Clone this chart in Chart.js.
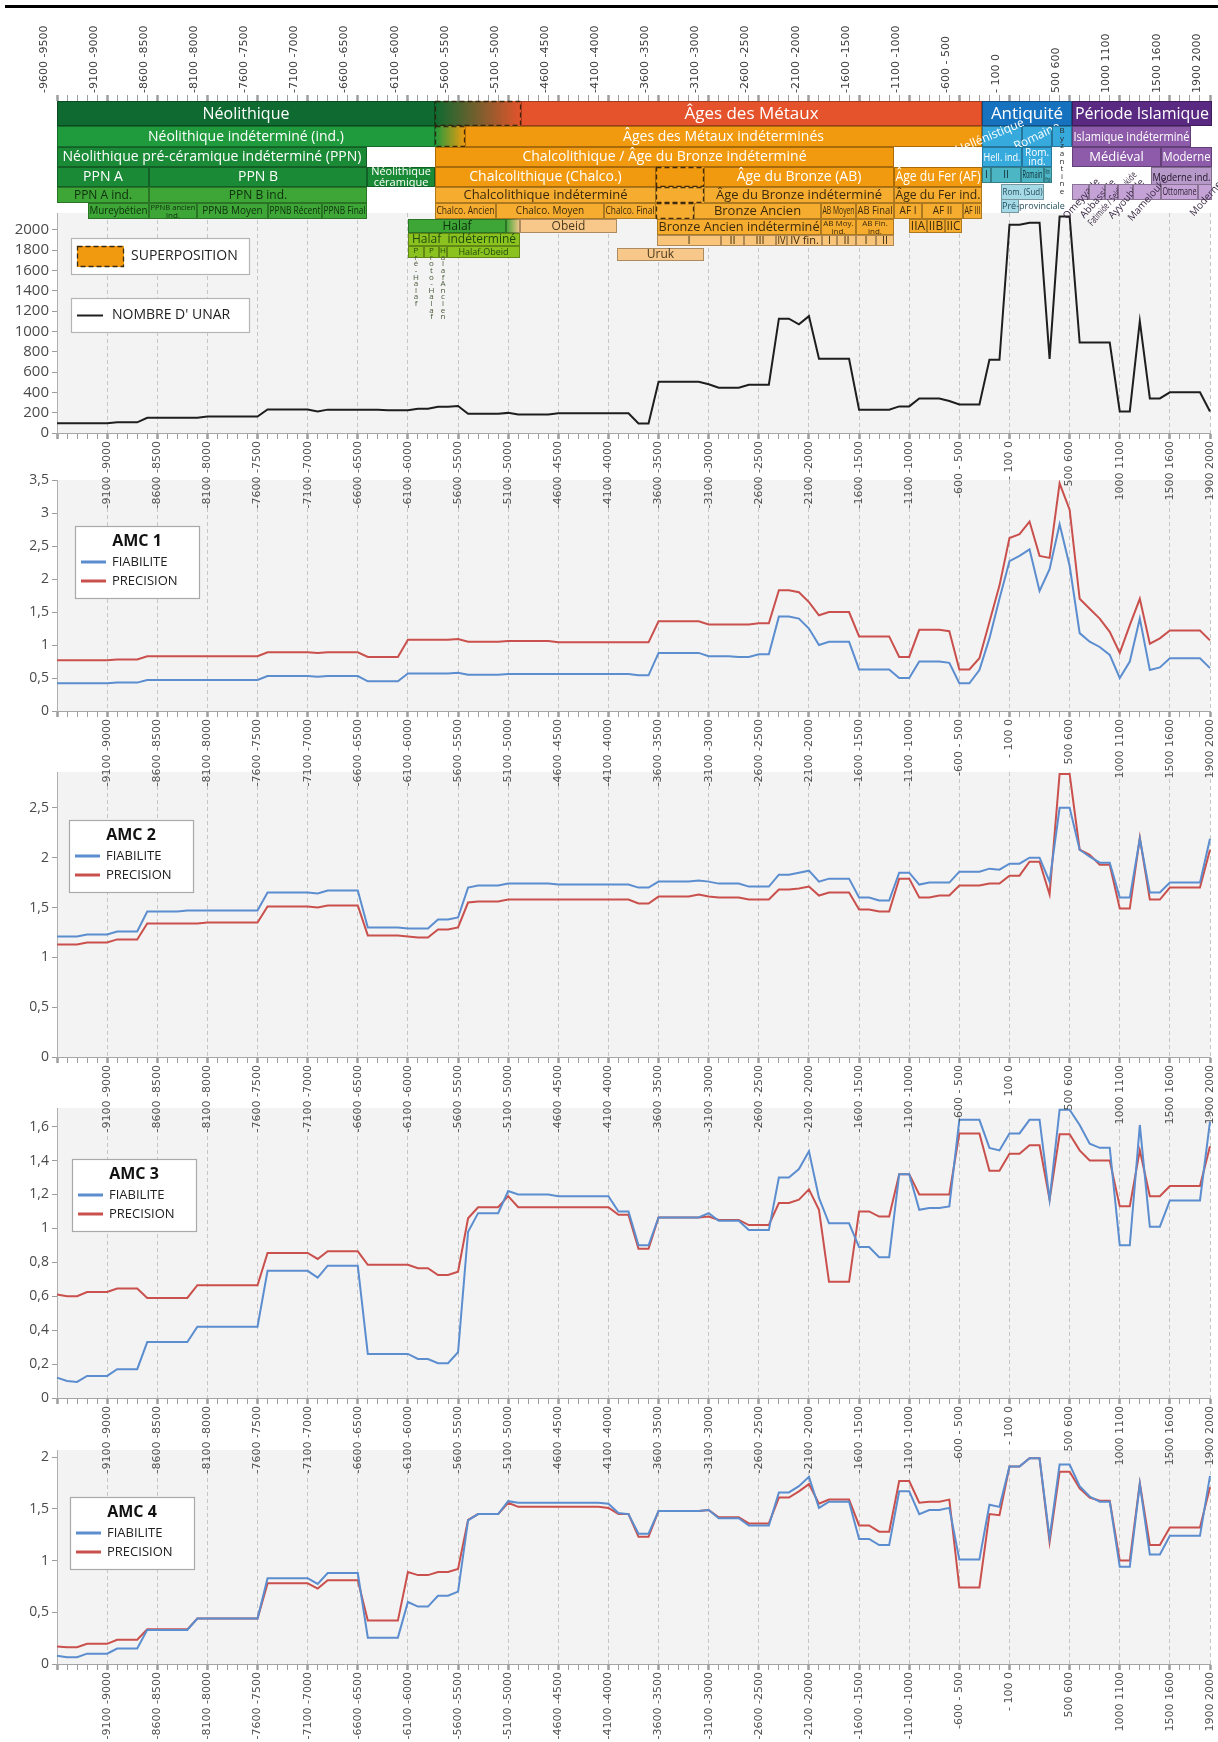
<!DOCTYPE html>
<html lang="fr">
<head>
<meta charset="utf-8">
<title>Nombre d'UNAR et AMC 1-4</title>
<script src="https://cdn.jsdelivr.net/npm/chart.js@4.4.1/dist/chart.umd.min.js"></script>
<style>
  html, body { margin:0; padding:0; background:#ffffff; }
  #page { position:relative; width:1218px; height:1742px; overflow:hidden; background:#ffffff; }
  #page canvas { position:absolute; left:0; }
  #rule { position:absolute; left:5px; right:0; top:5px; height:3px; background:#000; z-index:50; }
</style>
</head>
<body>
<div id="page">
  <div id="rule"></div>
  <canvas id="cHead" width="1218" height="330" style="top:0px;z-index:20"></canvas>
  <canvas id="cUnar" width="1218" height="310" style="top:203px;z-index:19"></canvas>
  <canvas id="cA1" width="1218" height="321" style="top:470px;z-index:18"></canvas>
  <canvas id="cA2" width="1218" height="375" style="top:762px;z-index:17"></canvas>
  <canvas id="cA3" width="1218" height="380" style="top:1098px;z-index:16"></canvas>
  <canvas id="cA4" width="1218" height="304" style="top:1440px;z-index:15"></canvas>
</div>
<script>
// ================= DATA =================
const periodLabels = [
"-9600 -9500","-9500 -9400","-9400 -9300","-9300 -9200","-9200 -9100","-9100 -9000","-9000 -8900","-8900 -8800","-8800 -8700","-8700 -8600",
"-8600 -8500","-8500 -8400","-8400 -8300","-8300 -8200","-8200 -8100","-8100 -8000","-8000 -7900","-7900 -7800","-7800 -7700","-7700 -7600",
"-7600 -7500","-7500 -7400","-7400 -7300","-7300 -7200","-7200 -7100","-7100 -7000","-7000 -6900","-6900 -6800","-6800 -6700","-6700 -6600",
"-6600 -6500","-6500 -6400","-6400 -6300","-6300 -6200","-6200 -6100","-6100 -6000","-6000 -5900","-5900 -5800","-5800 -5700","-5700 -5600",
"-5600 -5500","-5500 -5400","-5400 -5300","-5300 -5200","-5200 -5100","-5100 -5000","-5000 -4900","-4900 -4800","-4800 -4700","-4700 -4600",
"-4600 -4500","-4500 -4400","-4400 -4300","-4300 -4200","-4200 -4100","-4100 -4000","-4000 -3900","-3900 -3800","-3800 -3700","-3700 -3600",
"-3600 -3500","-3500 -3400","-3400 -3300","-3300 -3200","-3200 -3100","-3100 -3000","-3000 -2900","-2900 -2800","-2800 -2700","-2700 -2600",
"-2600 -2500","-2500 -2400","-2400 -2300","-2300 -2200","-2200 -2100","-2100 -2000","-2000 -1900","-1900 -1800","-1800 -1700","-1700 -1600",
"-1600 -1500","-1500 -1400","-1400 -1300","-1300 -1200","-1200 -1100","-1100 -1000","-1000 -900","-900 -800","-800 -700","-700 -600",
"-600 - 500","-500 -400","-400 -300","-300 -200","-200 -100","- 100 0","0 100","100 200","200 300","300 400",
"400 500","500 600","600 700","700 800","800 900","900 1000","1000 1100","1100 1200","1200 1300","1300 1400",
"1400 1500","1500 1600","1600 1700","1700 1800","1800 1900","1900 2000"];
const firstYear = -9600;   // start of the first 100-year interval
const yearStep = 100;
const labelledTicks = [0,5,10,15,20,25,30,35,40,45,50,55,60,65,70,75,80,85,90,95,101,106,111,115];

const unarCount = [
 95,95,95,95,95,95,105,105,105,150,
 150,150,150,150,150,162,162,162,162,162,
 162,232,232,232,232,232,212,230,230,230,
 230,230,230,225,225,225,238,238,258,258,
 265,190,190,190,190,198,183,183,183,183,
 195,195,195,195,195,195,195,195,93,93,
 505,505,505,505,505,480,445,445,445,475,
 475,475,1125,1125,1070,1150,730,730,730,730,
 230,230,230,230,262,262,340,340,340,315,
 280,280,280,720,720,2050,2050,2070,2070,730,
 2130,2130,890,890,890,890,212,212,1100,340,
 340,400,400,400,400,212];

const amc1Fiabilite = [
 0.42,0.42,0.42,0.42,0.42,0.42,0.43,0.43,0.43,0.47,
 0.47,0.47,0.47,0.47,0.47,0.47,0.47,0.47,0.47,0.47,
 0.47,0.53,0.53,0.53,0.53,0.53,0.52,0.53,0.53,0.53,
 0.53,0.45,0.45,0.45,0.45,0.57,0.57,0.57,0.57,0.57,
 0.58,0.55,0.55,0.55,0.55,0.56,0.56,0.56,0.56,0.56,
 0.56,0.56,0.56,0.56,0.56,0.56,0.56,0.56,0.54,0.54,
 0.88,0.88,0.88,0.88,0.88,0.83,0.83,0.83,0.82,0.82,
 0.86,0.86,1.43,1.43,1.40,1.25,1.00,1.05,1.05,1.05,
 0.63,0.63,0.63,0.63,0.50,0.50,0.75,0.75,0.75,0.73,
 0.42,0.42,0.62,1.10,1.70,2.27,2.35,2.45,1.82,2.15,
 2.83,2.20,1.18,1.05,0.97,0.85,0.50,0.75,1.40,0.62,
 0.66,0.80,0.80,0.80,0.80,0.65];
const amc1Precision = [
 0.77,0.77,0.77,0.77,0.77,0.77,0.78,0.78,0.78,0.83,
 0.83,0.83,0.83,0.83,0.83,0.83,0.83,0.83,0.83,0.83,
 0.83,0.89,0.89,0.89,0.89,0.89,0.88,0.89,0.89,0.89,
 0.89,0.82,0.82,0.82,0.82,1.08,1.08,1.08,1.08,1.08,
 1.09,1.05,1.05,1.05,1.05,1.06,1.06,1.06,1.06,1.06,
 1.04,1.04,1.04,1.04,1.04,1.04,1.04,1.04,1.04,1.04,
 1.36,1.36,1.36,1.36,1.36,1.31,1.31,1.31,1.31,1.31,
 1.33,1.33,1.83,1.83,1.80,1.65,1.45,1.50,1.50,1.50,
 1.13,1.13,1.13,1.13,0.82,0.82,1.23,1.23,1.23,1.21,
 0.63,0.63,0.80,1.35,1.90,2.62,2.68,2.87,2.35,2.32,
 3.45,3.05,1.70,1.55,1.40,1.20,0.88,1.30,1.70,1.02,
 1.10,1.22,1.22,1.22,1.22,1.07];

const amc2Fiabilite = [
 1.21,1.21,1.21,1.23,1.23,1.23,1.26,1.26,1.26,1.46,
 1.46,1.46,1.46,1.47,1.47,1.47,1.47,1.47,1.47,1.47,
 1.47,1.65,1.65,1.65,1.65,1.65,1.64,1.67,1.67,1.67,
 1.67,1.30,1.30,1.30,1.30,1.29,1.29,1.29,1.38,1.38,
 1.40,1.70,1.72,1.72,1.72,1.74,1.74,1.74,1.74,1.74,
 1.73,1.73,1.73,1.73,1.73,1.73,1.73,1.73,1.70,1.70,
 1.76,1.76,1.76,1.76,1.77,1.76,1.74,1.74,1.74,1.71,
 1.71,1.71,1.83,1.83,1.85,1.87,1.76,1.79,1.79,1.79,
 1.60,1.60,1.57,1.57,1.85,1.85,1.73,1.75,1.75,1.75,
 1.86,1.86,1.86,1.89,1.88,1.94,1.94,2.00,2.00,1.76,
 2.50,2.50,2.08,2.01,1.95,1.95,1.60,1.60,2.19,1.65,
 1.65,1.75,1.75,1.75,1.75,2.19];
const amc2Precision = [
 1.13,1.13,1.13,1.15,1.15,1.15,1.18,1.18,1.18,1.34,
 1.34,1.34,1.34,1.34,1.34,1.35,1.35,1.35,1.35,1.35,
 1.35,1.51,1.51,1.51,1.51,1.51,1.50,1.52,1.52,1.52,
 1.52,1.22,1.22,1.22,1.22,1.21,1.20,1.20,1.28,1.28,
 1.30,1.55,1.56,1.56,1.56,1.58,1.58,1.58,1.58,1.58,
 1.58,1.58,1.58,1.58,1.58,1.58,1.58,1.58,1.54,1.54,
 1.61,1.61,1.61,1.61,1.63,1.61,1.60,1.60,1.60,1.58,
 1.58,1.58,1.68,1.68,1.69,1.71,1.62,1.65,1.65,1.65,
 1.48,1.48,1.46,1.46,1.79,1.79,1.60,1.60,1.62,1.62,
 1.72,1.72,1.72,1.74,1.74,1.82,1.82,1.96,1.96,1.63,
 2.84,2.84,2.08,2.03,1.93,1.93,1.49,1.49,2.20,1.58,
 1.58,1.70,1.70,1.70,1.70,2.08];

const amc3Fiabilite = [
 0.12,0.10,0.095,0.13,0.13,0.13,0.17,0.17,0.17,0.33,
 0.33,0.33,0.33,0.33,0.42,0.42,0.42,0.42,0.42,0.42,
 0.42,0.75,0.75,0.75,0.75,0.75,0.71,0.78,0.78,0.78,
 0.78,0.26,0.26,0.26,0.26,0.26,0.23,0.23,0.205,0.205,
 0.27,0.98,1.09,1.09,1.09,1.22,1.20,1.20,1.20,1.20,
 1.19,1.19,1.19,1.19,1.19,1.19,1.10,1.10,0.90,0.90,
 1.065,1.065,1.065,1.065,1.065,1.09,1.045,1.045,1.045,0.99,
 0.99,0.99,1.30,1.30,1.35,1.455,1.18,1.03,1.03,1.03,
 0.89,0.89,0.83,0.83,1.32,1.32,1.11,1.12,1.12,1.13,
 1.64,1.64,1.64,1.475,1.46,1.56,1.56,1.64,1.64,1.17,
 1.70,1.70,1.61,1.50,1.475,1.475,0.90,0.90,1.61,1.01,
 1.01,1.165,1.165,1.165,1.165,1.63];
const amc3Precision = [
 0.61,0.60,0.60,0.625,0.625,0.625,0.645,0.645,0.645,0.59,
 0.59,0.59,0.59,0.59,0.665,0.665,0.665,0.665,0.665,0.665,
 0.665,0.855,0.855,0.855,0.855,0.855,0.82,0.865,0.865,0.865,
 0.865,0.785,0.785,0.785,0.785,0.785,0.765,0.765,0.725,0.725,
 0.745,1.06,1.125,1.125,1.125,1.19,1.125,1.125,1.125,1.125,
 1.125,1.125,1.125,1.125,1.125,1.125,1.08,1.08,0.88,0.88,
 1.065,1.065,1.065,1.065,1.065,1.07,1.05,1.05,1.05,1.02,
 1.02,1.02,1.15,1.15,1.17,1.23,1.11,0.685,0.685,0.685,
 1.10,1.10,1.07,1.07,1.32,1.32,1.20,1.20,1.20,1.20,
 1.56,1.56,1.56,1.34,1.34,1.44,1.44,1.49,1.49,1.17,
 1.555,1.555,1.46,1.40,1.40,1.40,1.13,1.13,1.46,1.19,
 1.19,1.25,1.25,1.25,1.25,1.485];

const amc4Fiabilite = [
 0.08,0.065,0.065,0.10,0.10,0.10,0.15,0.15,0.15,0.33,
 0.33,0.33,0.33,0.33,0.44,0.44,0.44,0.44,0.44,0.44,
 0.44,0.83,0.83,0.83,0.83,0.83,0.775,0.88,0.88,0.88,
 0.88,0.255,0.255,0.255,0.255,0.60,0.555,0.555,0.66,0.66,
 0.70,1.39,1.45,1.45,1.45,1.575,1.56,1.56,1.56,1.56,
 1.56,1.56,1.56,1.56,1.56,1.55,1.46,1.45,1.26,1.26,
 1.48,1.48,1.48,1.48,1.48,1.49,1.41,1.41,1.41,1.34,
 1.34,1.34,1.66,1.66,1.72,1.81,1.51,1.57,1.57,1.57,
 1.21,1.21,1.15,1.15,1.67,1.67,1.45,1.49,1.49,1.51,
 1.01,1.01,1.01,1.54,1.52,1.91,1.91,1.99,1.99,1.22,
 1.93,1.93,1.72,1.62,1.57,1.57,0.94,0.94,1.74,1.06,
 1.06,1.24,1.24,1.24,1.24,1.82];
const amc4Precision = [
 0.17,0.163,0.163,0.195,0.195,0.195,0.235,0.235,0.235,0.335,
 0.335,0.335,0.335,0.335,0.44,0.44,0.44,0.44,0.44,0.44,
 0.44,0.78,0.78,0.78,0.78,0.78,0.73,0.81,0.81,0.81,
 0.81,0.42,0.42,0.42,0.42,0.89,0.86,0.86,0.89,0.89,
 0.92,1.395,1.45,1.45,1.45,1.56,1.52,1.52,1.52,1.52,
 1.52,1.52,1.52,1.52,1.52,1.51,1.45,1.45,1.23,1.23,
 1.48,1.48,1.48,1.48,1.48,1.49,1.42,1.42,1.42,1.36,
 1.36,1.36,1.61,1.61,1.67,1.74,1.55,1.59,1.59,1.59,
 1.34,1.34,1.28,1.28,1.77,1.77,1.56,1.57,1.57,1.59,
 0.74,0.74,0.74,1.45,1.44,1.91,1.91,1.99,1.99,1.18,
 1.86,1.86,1.70,1.61,1.58,1.58,1.00,1.00,1.75,1.15,
 1.15,1.32,1.32,1.32,1.32,1.71];

// Chronological periods (names, start year, end year)
const periodNames = [
 "Néolithique","","Âges des Métaux","Antiquité","Période Islamique",
 "Néolithique indéterminé (ind.)","","Âges des Métaux indéterminés","Hellénistique","Romaine","Byzantine","Islamique indéterminé",
 "Néolithique pré-céramique indéterminé (PPN)","Chalcolithique / Âge du Bronze indéterminé","Hell. ind.","Rom.\nind.","Médiéval","Moderne",
 "PPN A","PPN B","Néolithique\ncéramique","Chalcolithique (Chalco.)","","Âge du Bronze (AB)","Âge du Fer (AF)","I","II","Romain","Rom.\nfinal","Moderne ind.",
 "PPN A ind.","PPN B ind.","Chalcolithique indéterminé","","Âge du Bronze indéterminé","Âge du Fer ind.","Rom. (Sud)",
 "Omeyyade","Abbasside","Fatimide / Seldjoukide","Ayyoubide","Mamelouke","Ottomane","Moderne",
 "Mureybétien","PPNB ancien\nind.","PPNB Moyen","PPNB Récent","PPNB Final","Chalco. Ancien","Chalco. Moyen","Chalco. Final","",
 "Bronze Ancien","AB Moyen","AB Final","AF I","AF II","AF III","Pré-provinciale",
 "Halaf","","Obeid","Bronze Ancien indéterminé","AB Moy.\nind.","AB Fin.\nind.","IIA","IIB","IIC",
 "Halaf  indéterminé","I","II","III","IV","IV fin.","I","II","I","II",
 "Pré-Halaf","Proto-Halaf","Halaf Ancien","Halaf-Obeid","Uruk"];
const periodFrom = [
 -9600,-5825,-4970,-370,520,
 -9600,-5825,-5535,-370,20,320,520,
 -9600,-5825,-370,20,520,1415,
 -9600,-8680,-6510,-5825,-3625,-3145,-1255,-370,-280,10,240,1315,
 -9600,-8680,-5825,-3625,-3145,-1255,-180,
 520,690,850,980,1130,1410,1785,
 -9290,-8680,-8200,-7500,-6960,-5825,-5220,-4140,-3625,
 -3245,-1980,-1630,-1255,-975,-565,-180,
 -6100,-5120,-4980,-3615,-1980,-1630,-1105,-925,-745,
 -6100,-3615,-2975,-2745,-2430,-2320,-1970,-1820,-1630,-1430,
 -6100,-5935,-5785,-5715,-4010];
const periodTo = [
 -5825,-4970,-370,520,1915,
 -5825,-5535,-370,20,320,520,1715,
 -6510,-1255,20,320,1415,1915,
 -8680,-6510,-5825,-3625,-3145,-1255,-370,-280,10,240,320,1915,
 -8680,-6510,-3625,-3145,-1255,-370,240,
 690,850,980,1130,1410,1785,1915,
 -8680,-8200,-7500,-6960,-6510,-5220,-4140,-3625,-3245,
 -1980,-1630,-1255,-975,-565,-370,-10,
 -5120,-4980,-4010,-1980,-1630,-1255,-925,-745,-575,
 -4980,-2975,-2745,-2430,-2320,-1970,-1820,-1630,-1430,-1255,
 -5935,-5785,-5715,-4980,-3145];

// ================= STYLE =================
const BLUE = '#5b8dcf', RED = '#c9504c', BLACK = '#1e1e1e';
const PLOT_BG = '#f3f3f3';
const KINDS = {
  neo:{fill:'#0e6a30', color:'#ffffff', size:16},
  metal:{fill:'#e4532b', color:'#ffffff', size:17},
  anti:{fill:'#1672bf', color:'#ffffff', size:17},
  isl:{fill:'#5a2a82', color:'#ffffff', size:16},
  g2:{fill:'#1f9a3c', color:'#ffffff', size:14},
  g3:{fill:'#1a8a37', color:'#ffffff', size:14},
  o2:{fill:'#f29a0f', color:'#ffffff', size:14},
  b2:{fill:'#36a9dd', color:'#ffffff', size:11},
  p2:{fill:'#8d5ba9', color:'#ffffff', size:13},
  g5:{fill:'#3da636', color:'#0f2f0e', size:12},
  o5:{fill:'#f6ad2f', color:'#3b2a0c', size:13},
  lo:{fill:'#f8c88b', color:'#4b3a1e', size:12},
  lo2:{fill:'#f9c57a', color:'#3b2a0c', size:11},
  yg:{fill:'#8cc21f', color:'#1e4c0d', size:12},
  teal:{fill:'#4db6c5', color:'#0e2a33', size:10},
  lteal:{fill:'#a6d9e6', color:'#1f4a5a', size:9},
  lp:{fill:'#c4a2d5', color:'#2e2233', size:9},
  mp:{fill:'#b698c9', color:'#1e1526', size:11}
};
// row bands (offsets from the top of the header area)
const ROWS = [[0,25],[25,46],[46,66],[66,86],[86,102],[102,118],[118,132],[132,145],[145,157]];
const periodLayout = [
 {row:0,kind:'neo'},{row:0,kind:'neo',grad:['#0e6a30','#e4532b'],dash:true},{row:0,kind:'metal'},{row:0,kind:'anti'},{row:0,kind:'isl'},
 {row:1,kind:'g2'},{row:1,kind:'g2',grad:['#1f9a3c','#f29a0f'],dash:true},{row:1,kind:'o2'},
 {row:1,kind:'b2',rot:-0.4,dx:-12,size:12},{row:1,kind:'b2',rot:-0.45,dx:0,size:12},{row:1,kind:'b2',vert:true,vstep:7.6,vcolor:'#2c2c2c'},{row:1,kind:'p2'},
 {row:2,kind:'g3'},{row:2,kind:'o2'},{row:2,kind:'b2'},{row:2,kind:'b2',size:10},{row:2,kind:'p2'},{row:2,kind:'p2'},
 {row:3,kind:'g3'},{row:3,kind:'g3'},{row:3,kind:'g3',size:11},{row:3,kind:'o2'},{row:3,kind:'o2',dash:true},{row:3,kind:'o2'},{row:3,kind:'o2'},
 {row:3,kind:'teal',dy1:-4},{row:3,kind:'teal',dy1:-4},{row:3,kind:'teal',dy1:-4},{row:3,kind:'teal',dy1:-4,size:8},{row:3,kind:'mp'},
 {row:4,kind:'g5'},{row:4,kind:'g5'},{row:4,kind:'o5'},{row:4,kind:'o5',dash:true},{row:4,kind:'o5'},{row:4,kind:'o5'},{row:4,kind:'lteal',dy0:-3,dy1:-3},
 {row:4,kind:'lp',dy0:-3,dy1:-3,diag:true},{row:4,kind:'lp',dy0:-3,dy1:-3,diag:true},{row:4,kind:'lp',dy0:-3,dy1:-3,diag:true},
 {row:4,kind:'lp',dy0:-3,dy1:-3,diag:true},{row:4,kind:'lp',dy0:-3,dy1:-3,diag:true},{row:4,kind:'lp',dy0:-3,dy1:-3,size:10},{row:4,kind:'lp',dy0:-3,dy1:-3,diag:true},
 {row:5,kind:'g5',size:10},{row:5,kind:'g5',size:8},{row:5,kind:'g5',size:10},{row:5,kind:'g5',size:10},{row:5,kind:'g5',size:10},
 {row:5,kind:'o5',size:10},{row:5,kind:'o5',size:10},{row:5,kind:'o5',size:10},{row:5,kind:'o5',dash:true},
 {row:5,kind:'o5',size:13},{row:5,kind:'o5',size:10},{row:5,kind:'o5',size:10},{row:5,kind:'o5',size:10},{row:5,kind:'o5',size:10},{row:5,kind:'o5',size:10},
 {row:5,kind:'lteal',dy0:-4,dy1:-6,left:true},
 {row:6,kind:'g5'},{row:6,kind:'g5',grad:['#3da636','#f8c88b']},{row:6,kind:'lo'},{row:6,kind:'o5',dy1:2},
 {row:6,kind:'o5',size:8,dy1:2},{row:6,kind:'o5',size:8,dy1:2},{row:6,kind:'o5',size:12},{row:6,kind:'o5',size:12},{row:6,kind:'o5',size:12},
 {row:7,kind:'yg'},{row:7,kind:'lo2',dy0:2},{row:7,kind:'lo2',dy0:2},{row:7,kind:'lo2',dy0:2},{row:7,kind:'lo2',dy0:2},{row:7,kind:'lo2',dy0:2},
 {row:7,kind:'lo2',dy0:2},{row:7,kind:'lo2',dy0:2},{row:7,kind:'lo2',dy0:2},{row:7,kind:'lo2',dy0:2},
 {row:8,kind:'yg',vert:true,vstep:6.6,vcolor:'#4a5a3a'},{row:8,kind:'yg',vert:true,vstep:6.6,vcolor:'#4a5a3a'},{row:8,kind:'yg',vert:true,vstep:6.6,vcolor:'#4a5a3a'},
 {row:8,kind:'yg',size:9},{row:8,kind:'lo',dy0:2,dy1:3}
];

const FONT = "'Open Sans', 'DejaVu Sans', sans-serif";
const isLabelled = i => labelledTicks.indexOf(i) >= 0;
const toIndex = yr => (yr - firstYear) / yearStep;

function drawFitText(ctx, txt, cx, cy, maxW, size, color, weight) {
  ctx.font = (weight ? weight + ' ' : '') + size + 'px ' + FONT;
  const lines = txt.split('\n');
  const lh = size * 0.95;
  lines.forEach((ln, k) => {
    const w = ctx.measureText(ln).width;
    const sx = w > maxW ? maxW / w : 1;
    ctx.save();
    ctx.translate(cx, cy + (k - (lines.length - 1) / 2) * lh);
    ctx.scale(sx, 1);
    ctx.fillStyle = color; ctx.textAlign = 'center'; ctx.textBaseline = 'middle';
    ctx.fillText(ln, 0, 0.5);
    ctx.restore();
  });
}

// ---- header periods drawn on the top category scale ----
const headerPlugin = {
  id: 'periodHeader',
  afterDraw(chart) {
    const {ctx, chartArea, scales} = chart;
    const xs = scales.x;
    const X = yr => xs.getPixelForValue(toIndex(yr));
    const T = chartArea.top;
    ctx.save();
    periodNames.forEach((name, k) => {
      const st = periodLayout[k];
      const kind = KINDS[st.kind];
      const x0 = Math.round(X(periodFrom[k])), x1 = Math.round(X(periodTo[k]));
      const y0 = T + ROWS[st.row][0] + (st.dy0 || 0), y1 = T + ROWS[st.row][1] + (st.dy1 || 0);
      const w = x1 - x0, h = y1 - y0;
      if (st.grad) {
        const g = ctx.createLinearGradient(x0, 0, x1, 0);
        g.addColorStop(0, st.grad[0]); g.addColorStop(1, st.grad[1]);
        ctx.fillStyle = g;
      } else ctx.fillStyle = kind.fill;
      ctx.fillRect(x0, y0, w, h);
      ctx.save();
      if (st.dash) { ctx.setLineDash([5, 3]); ctx.strokeStyle = 'rgba(45,30,10,0.9)'; ctx.lineWidth = 1.3; }
      else { ctx.strokeStyle = 'rgba(0,0,0,0.3)'; ctx.lineWidth = 1; }
      ctx.strokeRect(x0 + 0.5, y0 + 0.5, w - 1, h - 1);
      ctx.restore();
      if (!name) return;
      const size = st.size || kind.size;
      if (st.vert) {
        const letters = name.replace(/ /g, '').split('');
        ctx.font = '8px ' + FONT; ctx.textAlign = 'center'; ctx.textBaseline = 'middle';
        letters.forEach((ch, j) => {
          ctx.fillStyle = (j === 0 && st.row === 8) ? kind.color : st.vcolor;
          ctx.fillText(ch, (x0 + x1) / 2, y0 + 5 + j * st.vstep);
        });
      } else if (st.rot) {
        ctx.save();
        ctx.translate((x0 + x1) / 2 + (st.dx || 0), (y0 + y1) / 2);
        ctx.rotate(st.rot);
        ctx.font = size + 'px ' + FONT; ctx.fillStyle = kind.color;
        ctx.textAlign = 'center'; ctx.textBaseline = 'middle';
        ctx.fillText(name, 0, 0);
        ctx.restore();
      } else if (st.diag) {
        ctx.save();
        ctx.translate((x0 + x1) / 2 + 1, (y0 + y1) / 2 + 7);
        ctx.rotate(-0.85);
        ctx.font = '10px ' + FONT;
        const tw = ctx.measureText(name).width;
        const sx = tw > 68 ? 68 / tw : 1;
        ctx.scale(sx, 1);
        ctx.fillStyle = '#3a2a44'; ctx.textAlign = 'center'; ctx.textBaseline = 'middle';
        ctx.fillText(name, 0, 0);
        ctx.restore();
      } else if (st.left) {
        ctx.font = size + 'px ' + FONT; ctx.fillStyle = kind.color;
        ctx.textAlign = 'left'; ctx.textBaseline = 'middle';
        ctx.fillText(name, x0 + 1, (y0 + y1) / 2 + 0.5);
      } else {
        drawFitText(ctx, name, (x0 + x1) / 2, (y0 + y1) / 2, Math.max(4, w - 3), size, kind.color);
      }
    });
    ctx.restore();
  }
};

const plotBackground = {
  id: 'plotBackground',
  beforeDraw(chart) {
    const {ctx, chartArea: a} = chart;
    ctx.save(); ctx.fillStyle = PLOT_BG; ctx.fillRect(a.left, a.top, a.right - a.left, a.bottom - a.top); ctx.restore();
  }
};

function unarLegend() {
  return {
    id: 'unarLegend',
    afterDraw(chart) {
      const {ctx, chartArea} = chart;
      const T = chartArea.top;
      ctx.save();
      ctx.fillStyle = '#fff'; ctx.fillRect(71, T + 25, 178, 36);
      ctx.strokeStyle = '#b5b5b5'; ctx.lineWidth = 1.2; ctx.strokeRect(71.5, T + 25.5, 178, 36);
      ctx.fillStyle = '#f29a0f'; ctx.fillRect(77, T + 33, 47, 21);
      ctx.setLineDash([5, 3]); ctx.strokeStyle = '#3a2a10'; ctx.lineWidth = 1.3; ctx.strokeRect(77.5, T + 33.5, 46, 20);
      ctx.setLineDash([]);
      ctx.fillStyle = '#222'; ctx.font = '14px ' + FONT; ctx.textAlign = 'left'; ctx.textBaseline = 'middle';
      ctx.fillText('SUPERPOSITION', 131, T + 43);
      ctx.fillStyle = '#fff'; ctx.fillRect(71, T + 85, 178, 34);
      ctx.strokeStyle = '#b5b5b5'; ctx.lineWidth = 1.2; ctx.strokeRect(71.5, T + 85.5, 178, 34);
      const ds = chart.data.datasets[0];
      ctx.strokeStyle = ds.borderColor; ctx.lineWidth = 2; ctx.beginPath(); ctx.moveTo(77, T + 102.5); ctx.lineTo(103, T + 102.5); ctx.stroke();
      ctx.fillStyle = '#222'; ctx.fillText(ds.label, 112, T + 102);
      ctx.restore();
    }
  };
}

function amcLegend(title, boxX, boxDy) {
  return {
    id: 'amcLegend',
    afterDraw(chart) {
      const {ctx, chartArea} = chart;
      const y = chartArea.top + boxDy, w = 124, h = 72;
      ctx.save();
      ctx.fillStyle = '#fff'; ctx.fillRect(boxX, y, w, h);
      ctx.strokeStyle = '#a9a9a9'; ctx.lineWidth = 1.2; ctx.strokeRect(boxX + 0.5, y + 0.5, w, h);
      ctx.fillStyle = '#111'; ctx.font = 'bold 16px ' + FONT; ctx.textAlign = 'center'; ctx.textBaseline = 'middle';
      ctx.fillText(title, boxX + w / 2, y + 15);
      chart.data.datasets.forEach((ds, k) => {
        const ly = y + 36 + k * 19;
        ctx.strokeStyle = ds.borderColor; ctx.lineWidth = 3;
        ctx.beginPath(); ctx.moveTo(boxX + 6, ly); ctx.lineTo(boxX + 31, ly); ctx.stroke();
        ctx.fillStyle = '#222'; ctx.font = '13px ' + FONT; ctx.textAlign = 'left';
        ctx.fillText(ds.label, boxX + 37, ly);
      });
      ctx.restore();
    }
  };
}

function xAxis(position) {
  const top = position === 'top';
  return {
    type: 'category', position, offset: false,
    ticks: {
      autoSkip: false, minRotation: 90, maxRotation: 90, padding: 2,
      color: top ? '#3c3c3c' : '#505050',
      font: {family: "'DejaVu Sans', sans-serif", size: 11},
      callback: (v, i) => (isLabelled(i) && (top || i > 0)) ? periodLabels[i] : ''
    },
    grid: {
      drawOnChartArea: !top,
      color: c => (c.index > 0 && isLabelled(c.index)) ? '#c6c6c6' : 'rgba(0,0,0,0)',
      lineWidth: 1, drawTicks: true, tickLength: 6,
      tickColor: '#9d9d9d', tickWidth: c => isLabelled(c.index) ? 2.5 : 1
    },
    border: {display: true, color: '#a5a5a5', width: 1, dash: [4, 3]},
    afterFit(s) { s.height = top ? 89 : 80; s.paddingLeft = 0; s.paddingRight = 0; }
  };
}

function yAxis(max, step, size, fmt) {
  return {
    type: 'linear', min: 0, max,
    ticks: {stepSize: step, includeBounds: false, color: '#4a4a4a', padding: 3,
      font: {family: FONT, size}, callback: fmt},
    grid: {drawOnChartArea: false, drawTicks: true, tickLength: 5, tickColor: '#9d9d9d'},
    border: {color: '#b0b0b0', width: 1},
    afterFit(s) { s.width = 57; s.paddingTop = 0; s.paddingBottom = 0; }
  };
}

const commaFmt = v => String(Number(v.toFixed(2))).replace('.', ',');

function baseOptions(padTop, yOpts) {
  return {
    responsive: false, animation: false, devicePixelRatio: 1,
    layout: {padding: {left: 0, right: 8, top: padTop, bottom: 0}},
    plugins: {legend: {display: false}, tooltip: {enabled: false}},
    elements: {point: {radius: 0}, line: {tension: 0, borderJoinStyle: 'miter'}},
    scales: {x: xAxis('bottom'), y: yOpts}
  };
}

// ---- header chart (top axis + period boxes) ----
new Chart(document.getElementById('cHead'), {
  type: 'line',
  data: {labels: periodLabels, datasets: []},
  options: {
    responsive: false, animation: false, devicePixelRatio: 1,
    layout: {padding: {left: 57, right: 8, top: 12, bottom: 0}},
    plugins: {legend: {display: false}, tooltip: {enabled: false}},
    scales: {x: xAxis('top'), y: {display: false, min: 0, max: 1}}
  },
  plugins: [headerPlugin]
});

// ---- UNAR chart ----
new Chart(document.getElementById('cUnar'), {
  type: 'line',
  data: {labels: periodLabels, datasets: [
    {label: "NOMBRE D' UNAR", data: unarCount, borderColor: BLACK, borderWidth: 2, pointRadius: 0, fill: false}
  ]},
  options: baseOptions(10, yAxis(2165, 100, 15, v => (v % 200 === 0 ? String(v) : ''))),
  plugins: [plotBackground, unarLegend()]
});

function amcChart(id, padTop, max, step, fia, pre, title, boxX, boxDy) {
  new Chart(document.getElementById(id), {
    type: 'line',
    data: {labels: periodLabels, datasets: [
      {label: 'FIABILITE', data: fia, borderColor: BLUE, borderWidth: 2, pointRadius: 0, fill: false},
      {label: 'PRECISION', data: pre, borderColor: RED, borderWidth: 2, pointRadius: 0, fill: false}
    ]},
    options: baseOptions(padTop, yAxis(max, step, 14, commaFmt)),
    plugins: [plotBackground, amcLegend(title, boxX, boxDy)]
  });
}

amcChart('cA1', 10, 3.5, 0.5, amc1Fiabilite, amc1Precision, 'AMC 1', 75, 46);
amcChart('cA2', 10, 2.86, 0.5, amc2Fiabilite, amc2Precision, 'AMC 2', 69, 48);
amcChart('cA3', 10, 1.71, 0.2, amc3Fiabilite, amc3Precision, 'AMC 3', 72, 51);
amcChart('cA4', 10, 2.07, 0.5, amc4Fiabilite, amc4Precision, 'AMC 4', 70, 47);
</script>
</body>
</html>
